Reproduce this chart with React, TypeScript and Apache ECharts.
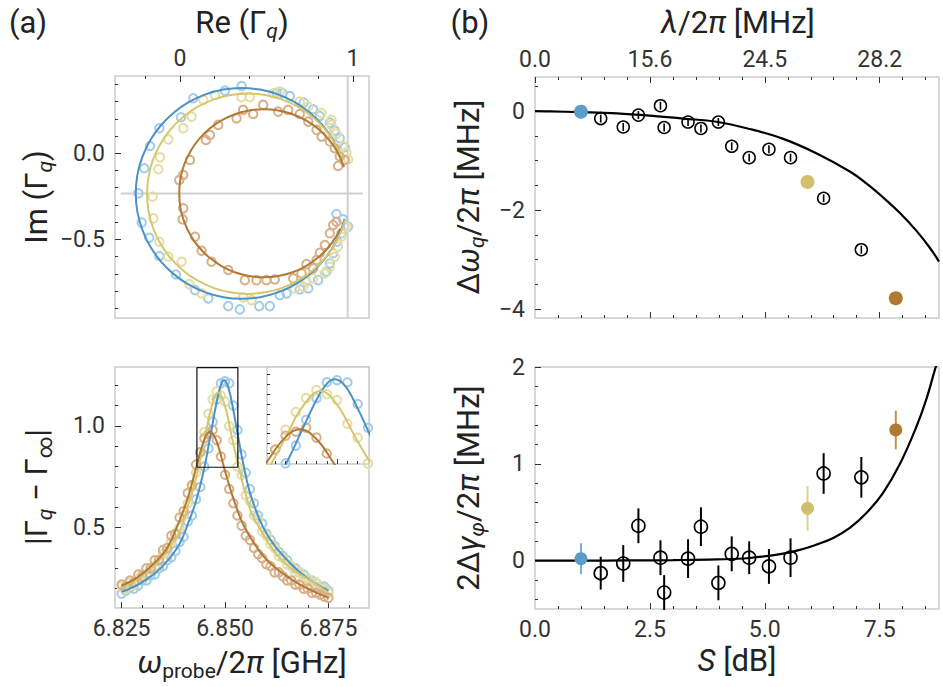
import React, { useEffect, useRef } from "react";
import * as echarts from "echarts";

const FONT = "Roboto, 'DejaVu Sans', sans-serif";
const INK = "#222222";
const TICK = "#333333";
const FRAME = "#cccccc";

const BLUE_LINE = "#4a93c4";
const BLUE_PT = "#a3cce7";
const BLUE_FILL = "#5a9dca";
const YEL_LINE = "#d6c66c";
const YEL_PT = "#e6dda4";
const YEL_FILL = "#d0c06b";
const BRN_LINE = "#b27935";
const BRN_PT = "#d8b088";
const BRN_FILL = "#b07a33";

// ---------- panel (a) top: Im vs Re of reflection ----------
const RE_INF = 0.969;
const IM_INF = -0.233;
const TL_X_RANGE = [-0.375, 1.092];
const TL_Y_RANGE = [-0.957, 0.449];
const TL_HLINE_RE = [-0.342, 1.056];

const TL_BLUE_RE = [-0.24, -0.221, -0.206, -0.177, -0.173, -0.119, -0.119, -0.023, 0.006, 0.077, 0.087, 0.164, 0.279, 0.346, 0.356, 0.26, 0.458, 0.519, 0.558, 0.593, 0.635, 0.616, 0.692, 0.741, 0.715, 0.769, 0.808, 0.798, 0.846, 0.866, 0.866, 0.894, 0.923, 0.952, 0.904, 0.942, 0.971, 0.885, 0.908, 0.933, 0.577];
const TL_BLUE_IM = [-0.233, -0.403, -0.087, -0.491, 0.042, 0.145, -0.597, -0.704, 0.209, 0.32, -0.795, -0.843, -0.888, -0.907, 0.391, 0.364, -0.888, -0.888, 0.352, 0.349, 0.333, -0.814, -0.791, -0.785, 0.294, 0.256, 0.217, -0.737, -0.688, -0.64, 0.178, 0.132, 0.087, 0.035, -0.353, -0.384, -0.426, -0.581, -0.514, -0.465, -0.824];

const TL_YEL_RE = [-0.158, -0.154, -0.125, -0.115, -0.119, -0.067, -0.067, 0.01, 0.019, 0.067, 0.054, 0.125, 0.135, 0.202, 0.365, 0.414, 0.356, 0.404, 0.539, 0.664, 0.731, 0.769, 0.692, 0.741, 0.818, 0.875, 0.904, 0.942, 0.971, 0.962, 0.962, 0.913, 0.894, 0.866, 0.837, 0.933, 0.875, 0.577, 0.711];
const TL_YEL_IM = [-0.252, -0.378, -0.093, -0.023, -0.514, 0.081, -0.601, -0.63, 0.145, 0.213, -0.76, -0.814, 0.31, 0.339, -0.837, -0.853, 0.326, 0.326, 0.349, -0.785, -0.746, -0.727, 0.3, 0.271, 0.233, 0.165, 0.113, 0.042, -0.035, 0.004, -0.426, -0.543, -0.601, -0.659, -0.698, -0.484, 0.194, 0.358, -0.775];

const TL_BRN_RE = [-0.004, 0.019, 0.019, 0.016, 0.058, 0.087, 0.125, 0.15, 0.173, 0.183, 0.279, 0.221, 0.327, 0.365, 0.423, 0.375, 0.442, 0.5, 0.548, 0.481, 0.567, 0.625, 0.654, 0.702, 0.731, 0.692, 0.741, 0.789, 0.818, 0.866, 0.894, 0.923, 0.913, 0.952, 0.808, 0.837, 0.866, 0.885, 0.904, 0.789, 0.769];
const TL_BRN_IM = [-0.155, -0.126, -0.32, -0.384, -0.039, -0.485, -0.566, 0.077, 0.106, -0.63, -0.678, 0.165, 0.203, 0.252, 0.228, -0.737, -0.737, -0.737, -0.733, 0.281, 0.242, 0.252, -0.727, -0.698, -0.644, 0.228, 0.184, 0.136, 0.097, 0.068, 0.029, -0.019, -0.074, -0.039, -0.578, -0.533, -0.465, -0.417, -0.398, -0.62, -0.669];

const FIT_BLUE_RE = [0.924, 0.887, 0.826, 0.75, 0.663, 0.566, 0.463, 0.357, 0.251, 0.148, 0.051, -0.036, -0.112, -0.173, -0.218, -0.246, -0.255, -0.246, -0.218, -0.173, -0.112, -0.036, 0.051, 0.148, 0.251, 0.357, 0.463, 0.566, 0.663, 0.75, 0.826, 0.887, 0.932, 0.951];
const FIT_BLUE_IM = [-0.004, 0.073, 0.16, 0.236, 0.297, 0.342, 0.37, 0.379, 0.37, 0.342, 0.297, 0.236, 0.16, 0.073, -0.024, -0.127, -0.233, -0.339, -0.442, -0.539, -0.626, -0.702, -0.763, -0.808, -0.836, -0.845, -0.836, -0.808, -0.763, -0.702, -0.626, -0.539, -0.442, -0.381];
const FIT_YEL_RE = [0.939, 0.896, 0.838, 0.766, 0.683, 0.591, 0.493, 0.392, 0.291, 0.193, 0.101, 0.018, -0.054, -0.112, -0.155, -0.181, -0.19, -0.181, -0.155, -0.112, -0.054, 0.018, 0.101, 0.193, 0.291, 0.392, 0.493, 0.591, 0.683, 0.766, 0.838, 0.896, 0.939, 0.954];
const FIT_YEL_IM = [-0.036, 0.056, 0.139, 0.211, 0.269, 0.312, 0.338, 0.347, 0.338, 0.312, 0.269, 0.211, 0.139, 0.056, -0.036, -0.134, -0.235, -0.336, -0.434, -0.526, -0.609, -0.681, -0.739, -0.782, -0.808, -0.817, -0.808, -0.782, -0.739, -0.681, -0.609, -0.526, -0.434, -0.386];
const FIT_BRN_RE = [0.948, 0.907, 0.858, 0.798, 0.728, 0.651, 0.569, 0.484, 0.399, 0.317, 0.24, 0.17, 0.11, 0.061, 0.025, 0.003, -0.004, 0.003, 0.025, 0.061, 0.11, 0.17, 0.24, 0.317, 0.399, 0.484, 0.569, 0.651, 0.728, 0.798, 0.858, 0.907, 0.926];
const FIT_BRN_IM = [-0.081, 0.012, 0.082, 0.142, 0.191, 0.227, 0.249, 0.256, 0.249, 0.227, 0.191, 0.142, 0.082, 0.012, -0.065, -0.147, -0.232, -0.317, -0.399, -0.476, -0.546, -0.606, -0.655, -0.691, -0.713, -0.72, -0.713, -0.691, -0.655, -0.606, -0.546, -0.476, -0.438];

// ---------- panel (a) bottom: |Gamma - Gamma_inf| vs frequency ----------
const BL_X_RANGE = [6.8234, 6.8848];
const BL_Y_RANGE = [0.105, 1.29];
const INSET_X_RANGE = [6.8432, 6.8531];
const INSET_Y_RANGE = [0.797, 1.287];

const FREQ = [6.825, 6.826, 6.827, 6.828, 6.829, 6.83, 6.831, 6.832, 6.833, 6.834, 6.835, 6.836, 6.837, 6.838, 6.839, 6.84, 6.841, 6.842, 6.843, 6.844, 6.845, 6.846, 6.847, 6.848, 6.849, 6.85, 6.851, 6.852, 6.853, 6.854, 6.855, 6.856, 6.857, 6.858, 6.859, 6.86, 6.861, 6.862, 6.863, 6.864, 6.865, 6.866, 6.867, 6.868, 6.869, 6.87, 6.871, 6.872, 6.873, 6.874, 6.875];
const BL_BLUE = [0.175, 0.19, 0.205, 0.2, 0.215, 0.24, 0.24, 0.265, 0.27, 0.3, 0.31, 0.34, 0.355, 0.385, 0.43, 0.455, 0.53, 0.56, 0.64, 0.7, 0.8, 0.89, 1.02, 1.13, 1.21, 1.22, 1.21, 1.1, 0.98, 0.86, 0.77, 0.69, 0.62, 0.56, 0.52, 0.47, 0.44, 0.41, 0.38, 0.36, 0.34, 0.31, 0.3, 0.28, 0.27, 0.25, 0.24, 0.23, 0.21, 0.21, 0.19];
const BL_YEL = [0.21, 0.2, 0.23, 0.22, 0.25, 0.27, 0.27, 0.3, 0.31, 0.34, 0.37, 0.38, 0.43, 0.47, 0.5, 0.56, 0.62, 0.7, 0.77, 0.87, 0.97, 1.06, 1.13, 1.17, 1.15, 1.12, 1.0, 0.93, 0.8, 0.76, 0.66, 0.63, 0.56, 0.54, 0.48, 0.46, 0.42, 0.4, 0.36, 0.35, 0.32, 0.31, 0.28, 0.28, 0.25, 0.25, 0.23, 0.23, 0.2, 0.2, 0.18];
const BL_BRN = [0.22, 0.21, 0.24, 0.23, 0.27, 0.26, 0.3, 0.3, 0.34, 0.34, 0.39, 0.4, 0.46, 0.47, 0.55, 0.58, 0.67, 0.71, 0.81, 0.87, 0.94, 0.96, 0.98, 0.93, 0.85, 0.76, 0.69, 0.62, 0.56, 0.51, 0.46, 0.44, 0.4, 0.37, 0.35, 0.32, 0.31, 0.28, 0.28, 0.26, 0.24, 0.24, 0.22, 0.22, 0.2, 0.2, 0.18, 0.18, 0.17, 0.16, 0.155];

const FIT_BL_BLUE_F = [6.825, 6.829, 6.833, 6.836, 6.839, 6.841, 6.843, 6.845, 6.8465, 6.848, 6.849, 6.8498, 6.8508, 6.852, 6.853, 6.8545, 6.8565, 6.8605, 6.866, 6.87, 6.875];
const FIT_BL_BLUE_V = [0.185, 0.22, 0.275, 0.335, 0.42, 0.517, 0.632, 0.795, 0.957, 1.12, 1.202, 1.225, 1.19, 1.078, 0.966, 0.805, 0.641, 0.455, 0.32, 0.25, 0.19];
const FIT_BL_YEL_F = [6.825, 6.829, 6.833, 6.836, 6.839, 6.841, 6.843, 6.845, 6.8465, 6.8484, 6.85, 6.852, 6.8545, 6.8565, 6.858, 6.862, 6.866, 6.871, 6.875];
const FIT_BL_YEL_V = [0.205, 0.25, 0.315, 0.39, 0.48, 0.607, 0.747, 0.929, 1.075, 1.166, 1.097, 0.911, 0.7, 0.566, 0.51, 0.38, 0.3, 0.235, 0.18];
const FIT_BL_BRN_F = [6.825, 6.829, 6.833, 6.836, 6.839, 6.841, 6.843, 6.845, 6.8464, 6.848, 6.85, 6.8524, 6.8548, 6.8597, 6.8661, 6.87, 6.875];
const FIT_BL_BRN_V = [0.215, 0.258, 0.328, 0.4, 0.535, 0.646, 0.793, 0.934, 0.972, 0.923, 0.778, 0.62, 0.5, 0.35, 0.245, 0.2, 0.155];

// ---------- panel (b) ----------
const S_RANGE = [0, 8.79];
const TR_Y_RANGE = [-4.18, 0.69];
const BR_Y_RANGE = [-0.5, 2.0];
const TOP_TICK_S = [0, 2.5, 5, 7.5];
const TOP_TICK_LAMBDA = ["0.0", "15.6", "24.5", "28.2"];

const S_OPEN = [1.43, 1.92, 2.25, 2.73, 2.81, 3.33, 3.61, 3.99, 4.28, 4.66, 5.09, 5.56, 6.28, 7.1];
const DW_OPEN = [-0.15, -0.32, -0.08, 0.11, -0.33, -0.22, -0.35, -0.22, -0.71, -0.94, -0.77, -0.94, -1.76, -2.8];
const DW_OPEN_ERR = [0.08, 0.08, 0.08, 0.08, 0.08, 0.08, 0.08, 0.08, 0.08, 0.08, 0.08, 0.08, 0.08, 0.08];
const DG_OPEN = [-0.13, -0.03, 0.36, 0.03, -0.33, 0.02, 0.35, -0.23, 0.07, 0.03, -0.06, 0.03, 0.9, 0.86];
const DG_OPEN_ERR = [0.17, 0.19, 0.18, 0.18, 0.18, 0.2, 0.2, 0.18, 0.18, 0.17, 0.18, 0.2, 0.21, 0.21];

const S_COLOR = [1.0, 5.93, 7.85];
const DW_COLOR = [-0.01, -1.43, -3.78];
const DG_COLOR = [0.02, 0.54, 1.35];
const DG_COLOR_ERR = [0.16, 0.23, 0.2];
const COLOR_FILL = [BLUE_FILL, YEL_FILL, BRN_FILL];
const COLOR_ERR = ["#74b0d8", "#ddd08a", "#c4914f"];

const FIT_TR_S = [0, 0.33, 1.0, 1.78, 2.5, 3.22, 3.95, 4.67, 5.4, 6.12, 6.85, 7.21, 7.57, 7.93, 8.3, 8.59, 8.79];
const FIT_TR_DW = [0, -0.005, -0.02, -0.045, -0.09, -0.15, -0.215, -0.36, -0.56, -0.85, -1.22, -1.46, -1.74, -2.05, -2.42, -2.76, -3.04];
const FIT_BR_S = [0, 1, 2, 3, 3.95, 4.67, 5.4, 5.83, 6.12, 6.49, 6.85, 7.21, 7.57, 7.93, 8.3, 8.51, 8.7, 8.76];
const FIT_BR_DG = [0, 0, 0.002, 0.005, 0.012, 0.027, 0.072, 0.12, 0.165, 0.234, 0.337, 0.491, 0.698, 0.99, 1.385, 1.66, 1.97, 2.06];

const zip = (a: number[], b: number[]) => a.map((v, i) => [v, b[i]]);
const zip3 = (a: number[], b: number[], c: number[]) => a.map((v, i) => [v, b[i], c[i]]);
const minus = (s: string) => s.replace("-", "\u2212");

const TICK_FONT = 23;
const TITLE_FONT = 31;
const SUB_FONT = 21;

function mkAxis(
  gridIndex: number,
  position: string,
  range: number[],
  ticks: number[],
  len: number,
  labels?: { values: number[]; fmt: (v: number) => string; margin: number },
  z = 0
) {
  return {
    type: "value",
    gridIndex,
    position,
    min: range[0],
    max: range[1],
    z,
    axisLine: { show: false, onZero: false },
    splitLine: { show: false },
    axisTick: {
      show: true,
      inside: true,
      length: len,
      lineStyle: { color: TICK, width: 1 },
      customValues: ticks,
    },
    axisLabel: labels
      ? {
          show: true,
          customValues: labels.values,
          formatter: labels.fmt,
          margin: labels.margin,
          fontSize: TICK_FONT,
          fontFamily: FONT,
          color: "#333333",
        }
      : { show: false },
  };
}

function ring(xi: number, yi: number, data: number[][], color: string, size: number, width: number, z = 2) {
  return {
    type: "scatter",
    xAxisIndex: xi,
    yAxisIndex: yi,
    data,
    symbol: "circle",
    symbolSize: size,
    clip: true,
    z,
    itemStyle: { color: "rgba(0,0,0,0)", borderColor: color, borderWidth: width, opacity: 1 },
  };
}

function curve(xi: number, yi: number, data: number[][], color: string, width: number, z = 3, smooth: number | boolean = 0.4) {
  return {
    type: "line",
    xAxisIndex: xi,
    yAxisIndex: yi,
    data,
    smooth,
    showSymbol: false,
    symbol: "none",
    clip: true,
    z,
    lineStyle: { color, width },
  };
}

function errBars(xi: number, yi: number, data: number[][], colors: string[] | string, width: number, z = 3) {
  return {
    type: "custom",
    xAxisIndex: xi,
    yAxisIndex: yi,
    data,
    z,
    encode: { x: 0, y: 1 },
    renderItem: (params: any, api: any) => {
      const x = api.value(0);
      const y = api.value(1);
      const e = api.value(2);
      const a = api.coord([x, y - e]);
      const b = api.coord([x, y + e]);
      const col = Array.isArray(colors) ? colors[params.dataIndex] : colors;
      return {
        type: "line",
        shape: { x1: a[0], y1: a[1], x2: b[0], y2: b[1] },
        style: { stroke: col, lineWidth: width },
      };
    },
  };
}

function filled(xi: number, yi: number, xs: number[], ys: number[], size: number) {
  return {
    type: "scatter",
    xAxisIndex: xi,
    yAxisIndex: yi,
    z: 5,
    symbolSize: size,
    itemStyle: { opacity: 1 },
    data: xs.map((s, i) => ({ value: [s, ys[i]], itemStyle: { color: COLOR_FILL[i], opacity: 1 } })),
  };
}

const RICH: any = {
  n: { fontFamily: FONT, fontSize: TITLE_FONT, fill: INK, color: INK },
  i: { fontFamily: FONT, fontSize: TITLE_FONT, fontStyle: "italic", fill: INK, color: INK },
  s: { fontFamily: FONT, fontSize: SUB_FONT, fill: INK, color: INK, padding: [17, 0, 0, 0] },
  si: { fontFamily: FONT, fontSize: SUB_FONT, fontStyle: "italic", fill: INK, color: INK, padding: [17, 0, 0, 0] },
};

function label(text: string, x: number, y: number, rotation = 0) {
  return {
    type: "text",
    x,
    y,
    rotation,
    z: 50,
    style: {
      text,
      rich: RICH,
      align: "center",
      verticalAlign: "middle",
      fontFamily: FONT,
      fontSize: TITLE_FONT,
      fill: INK,
    },
  };
}

export default function App() {
  const ref = useRef<HTMLDivElement>(null);

  useEffect(() => {
    if (!ref.current) return;
    const chart = echarts.init(ref.current, undefined, { renderer: "svg" });

    const gridStyle = { show: true, borderColor: FRAME, borderWidth: 1.5, backgroundColor: "transparent" };
    const MINOR_S = [0.5, 1, 1.5, 2, 3, 3.5, 4, 4.5, 5.5, 6, 6.5, 7, 8, 8.5];

    const option: any = {
      animation: false,
      textStyle: { fontFamily: FONT },
      grid: [
        { left: 115, top: 76, width: 254, height: 242, ...gridStyle },
        { left: 115, top: 367, width: 254, height: 241, ...gridStyle },
        { left: 267, top: 367, width: 102, height: 97, show: false },
        { left: 535, top: 77, width: 404, height: 241, ...gridStyle },
        { left: 535, top: 367, width: 404, height: 242, ...gridStyle },
      ],
      xAxis: [
        mkAxis(0, "top", TL_X_RANGE, [0, 1], 6, { values: [0, 1], fmt: (v) => String(v), margin: 6 }),
        mkAxis(0, "top", TL_X_RANGE, [-0.2, 0.2, 0.4, 0.6, 0.8], 3),
        mkAxis(1, "bottom", BL_X_RANGE, [6.825, 6.85, 6.875], 6, {
          values: [6.825, 6.85, 6.875],
          fmt: (v) => v.toFixed(3),
          margin: 9,
        }),
        mkAxis(1, "bottom", BL_X_RANGE, [6.83, 6.835, 6.84, 6.845, 6.855, 6.86, 6.865, 6.87, 6.88], 3),
        mkAxis(2, "bottom", INSET_X_RANGE, [6.844, 6.845, 6.846, 6.847, 6.848, 6.849, 6.851, 6.852], 3, undefined, 30),
        mkAxis(2, "bottom", INSET_X_RANGE, [6.85], 5, undefined, 30),
        mkAxis(3, "top", S_RANGE, TOP_TICK_S, 6, {
          values: TOP_TICK_S,
          fmt: (v) => TOP_TICK_LAMBDA[TOP_TICK_S.indexOf(v)] ?? "",
          margin: 6,
        }),
        mkAxis(3, "top", S_RANGE, MINOR_S, 3),
        mkAxis(3, "bottom", S_RANGE, [2.5, 5, 7.5], 6),
        mkAxis(3, "bottom", S_RANGE, MINOR_S, 3),
        mkAxis(4, "bottom", S_RANGE, [2.5, 5, 7.5], 6, {
          values: [0, 2.5, 5, 7.5],
          fmt: (v) => v.toFixed(1),
          margin: 9,
        }),
        mkAxis(4, "bottom", S_RANGE, MINOR_S, 3),
      ],
      yAxis: [
        mkAxis(0, "left", TL_Y_RANGE, [-0.5, 0], 6, { values: [-0.5, 0], fmt: (v) => minus(v.toFixed(1)), margin: 10 }),
        mkAxis(0, "left", TL_Y_RANGE, [-0.9, -0.8, -0.7, -0.6, -0.4, -0.3, -0.2, -0.1, 0.1, 0.2, 0.3, 0.4], 3),
        mkAxis(1, "left", BL_Y_RANGE, [0.5, 1.0], 6, { values: [0.5, 1.0], fmt: (v) => v.toFixed(1), margin: 10 }),
        mkAxis(1, "left", BL_Y_RANGE, [0.2, 0.3, 0.4, 0.6, 0.7, 0.8, 0.9, 1.1, 1.2], 3),
        mkAxis(2, "left", INSET_Y_RANGE, [0.85, 0.9, 0.95, 1.0, 1.05, 1.1, 1.15, 1.2, 1.25], 3, undefined, 30),
        mkAxis(3, "left", TR_Y_RANGE, [-4, -2, 0], 6, { values: [-4, -2, 0], fmt: (v) => minus(String(v)), margin: 10 }),
        mkAxis(3, "left", TR_Y_RANGE, [-3.5, -3, -2.5, -1.5, -1, -0.5, 0.5], 3),
        mkAxis(4, "left", BR_Y_RANGE, [0, 1, 2], 6, { values: [0, 1, 2], fmt: (v) => String(v), margin: 10 }),
        mkAxis(4, "left", BR_Y_RANGE, [-0.4, -0.2, 0.2, 0.4, 0.6, 0.8, 1.2, 1.4, 1.6, 1.8], 3),
      ],
      series: [
        // ----- top-left -----
        curve(0, 0, [[RE_INF, TL_Y_RANGE[0]], [RE_INF, TL_Y_RANGE[1]]], "#d0d0d0", 2, 1, false),
        curve(0, 0, [[TL_HLINE_RE[0], IM_INF], [TL_HLINE_RE[1], IM_INF]], "#d0d0d0", 2, 1, false),
        ring(0, 0, zip(TL_BLUE_RE, TL_BLUE_IM), BLUE_PT, 8.5, 2),
        ring(0, 0, zip(TL_YEL_RE, TL_YEL_IM), YEL_PT, 8.5, 2),
        ring(0, 0, zip(TL_BRN_RE, TL_BRN_IM), BRN_PT, 8.5, 2),
        curve(0, 0, zip(FIT_BLUE_RE, FIT_BLUE_IM), BLUE_LINE, 2, 3, 0.3),
        curve(0, 0, zip(FIT_YEL_RE, FIT_YEL_IM), YEL_LINE, 2, 3, 0.3),
        curve(0, 0, zip(FIT_BRN_RE, FIT_BRN_IM), BRN_LINE, 2, 3, 0.3),
        // ----- bottom-left -----
        ring(2, 2, zip(FREQ, BL_BLUE), BLUE_PT, 8.5, 2),
        ring(2, 2, zip(FREQ, BL_YEL), YEL_PT, 8.5, 2),
        ring(2, 2, zip(FREQ, BL_BRN), BRN_PT, 8.5, 2),
        curve(2, 2, zip(FIT_BL_BLUE_F, FIT_BL_BLUE_V), BLUE_LINE, 2),
        curve(2, 2, zip(FIT_BL_YEL_F, FIT_BL_YEL_V), YEL_LINE, 2),
        curve(2, 2, zip(FIT_BL_BRN_F, FIT_BL_BRN_V), BRN_LINE, 2),
        {
          ...curve(
            2,
            2,
            [
              [INSET_X_RANGE[0], INSET_Y_RANGE[0]],
              [INSET_X_RANGE[1], INSET_Y_RANGE[0]],
              [INSET_X_RANGE[1], INSET_Y_RANGE[1]],
              [INSET_X_RANGE[0], INSET_Y_RANGE[1]],
              [INSET_X_RANGE[0], INSET_Y_RANGE[0]],
            ],
            "#111111",
            1.2,
            4,
            false
          ),
          clip: false,
        },
        // ----- inset -----
        ring(4, 4, zip(FREQ, BL_BLUE), BLUE_PT, 8.5, 2, 20),
        ring(4, 4, zip(FREQ, BL_YEL), YEL_PT, 8.5, 2, 20),
        ring(4, 4, zip(FREQ, BL_BRN), BRN_PT, 8.5, 2, 20),
        curve(4, 4, zip(FIT_BL_BLUE_F, FIT_BL_BLUE_V), BLUE_LINE, 2, 21),
        curve(4, 4, zip(FIT_BL_YEL_F, FIT_BL_YEL_V), YEL_LINE, 2, 21),
        curve(4, 4, zip(FIT_BL_BRN_F, FIT_BL_BRN_V), BRN_LINE, 2, 21),
        // ----- top-right -----
        curve(6, 5, zip(FIT_TR_S, FIT_TR_DW), "#000000", 2.2, 2),
        errBars(6, 5, zip3(S_OPEN, DW_OPEN, DW_OPEN_ERR), "#000000", 1.6, 3),
        ring(6, 5, zip(S_OPEN, DW_OPEN), "#000000", 12, 1.5, 4),
        filled(6, 5, S_COLOR, DW_COLOR, 14),
        // ----- bottom-right -----
        curve(10, 7, zip(FIT_BR_S, FIT_BR_DG), "#000000", 2.2, 2),
        errBars(10, 7, zip3(S_OPEN, DG_OPEN, DG_OPEN_ERR), "#000000", 2, 3),
        ring(10, 7, zip(S_OPEN, DG_OPEN), "#000000", 13, 1.6, 4),
        errBars(10, 7, zip3(S_COLOR, DG_COLOR, DG_COLOR_ERR), COLOR_ERR, 2, 4),
        filled(10, 7, S_COLOR, DG_COLOR, 13),
      ],
      graphic: [
        {
          type: "rect",
          z: 10,
          shape: { x: 267, y: 367, width: 102, height: 97 },
          style: { fill: "#ffffff", stroke: FRAME, lineWidth: 1.5 },
        },
        label("{n|(a)}", 28, 22),
        label("{n|(b)}", 470, 22),
        label("{n|Re (Γ}{si|q}{n|)}", 242, 22),
        label("{i|λ}{n|/2}{i|π}{n| [MHz]}", 738, 22),
        label("{n|Im (Γ}{si|q}{n|)}", 36, 197, Math.PI / 2),
        label("{n||Γ}{si|q}{n| − Γ}{s|∞}{n||}", 36, 487, Math.PI / 2),
        label("{i|ω}{s|probe}{n|/2}{i|π}{n| [GHz]}", 242, 662),
        label("{n|Δ}{i|ω}{si|q}{n|/2}{i|π}{n| [MHz]}", 468, 197, Math.PI / 2),
        label("{n|2Δ}{i|γ}{si|φ}{n|/2}{i|π}{n| [MHz]}", 468, 488, Math.PI / 2),
        label("{i|S}{n| [dB]}", 737, 660),
      ],
    };

    chart.setOption(option);
    return () => chart.dispose();
  }, []);

  return (
    <div
      ref={ref}
      style={{ position: "absolute", left: 0, top: 0, width: 943, height: 687, background: "#ffffff" }}
    />
  );
}
